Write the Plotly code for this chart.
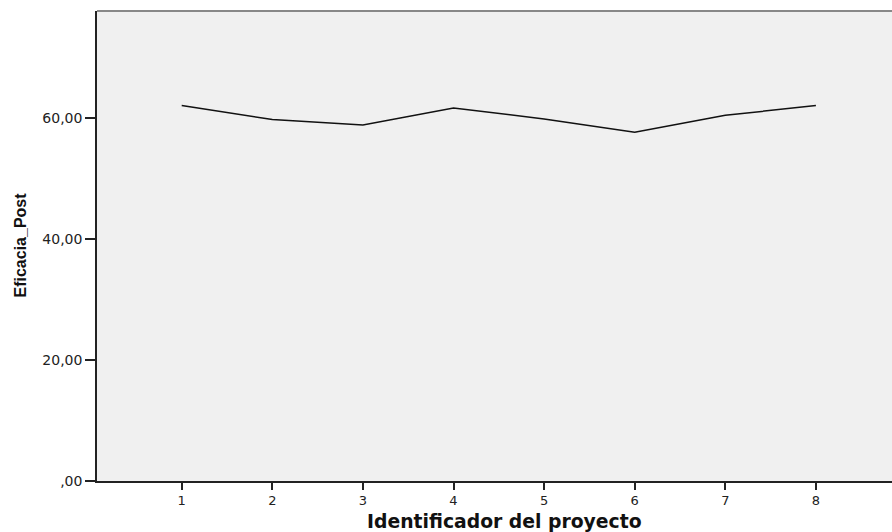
import plotly.graph_objects as go

proyecto = [1, 2, 3, 4, 5, 6, 7, 8]
eficacia_post = [62.1, 59.8, 58.9, 61.7, 59.9, 57.7, 60.5, 62.1]
y_tickvals = [0, 20, 40, 60]
y_ticktext = [",00", "20,00", "40,00", "60,00"]
x_ticktext = [str(v) for v in proyecto]

fig = go.Figure()
fig.add_trace(go.Scatter(x=proyecto, y=eficacia_post, mode="lines",
                         line=dict(color="#111111", width=1.5),
                         showlegend=False, hoverinfo="skip"))

fig.update_layout(
    width=892, height=532,
    margin=dict(l=97, r=0, t=11, b=51),
    paper_bgcolor="white",
    plot_bgcolor="#f0f0f0",
    font=dict(family="DejaVu Sans", color="#222222"),
    xaxis=dict(range=[0.065, 8.84], tickvals=proyecto, ticktext=x_ticktext,
               showgrid=False, zeroline=False, showline=True,
               linecolor="#222222", linewidth=1.5,
               ticks="outside", ticklen=7, tickwidth=1.5, tickcolor="#222222",
               tickfont=dict(family="DejaVu Sans", size=13, color="#222222")),
    yaxis=dict(range=[0, 77.75], tickvals=y_tickvals, ticktext=y_ticktext,
               showgrid=False, zeroline=False, showline=True,
               linecolor="#222222", linewidth=1.5,
               ticks="outside", ticklen=10, tickwidth=1.5, tickcolor="#222222",
               tickfont=dict(family="DejaVu Sans", size=14, color="#222222")),
    shapes=[dict(type="line", xref="paper", yref="paper", x0=0, x1=1, y0=1, y1=1,
                 line=dict(color="#888888", width=2))],
    annotations=[
        dict(text="<b>Identificador del proyecto</b>", xref="paper", yref="paper",
             x=(504 - 97) / 795, y=-(521 - 481) / 470, xanchor="center", yanchor="middle",
             showarrow=False, font=dict(family="DejaVu Sans", size=18.8, color="#111111")),
        dict(text="<b>Eficacia_Post</b>", xref="paper", yref="paper",
             x=(19.5 - 97) / 795, y=(481 - 245) / 470, xanchor="center", yanchor="middle",
             textangle=-90, showarrow=False,
             font=dict(family="Liberation Sans", size=16, color="#111111")),
    ],
)

fig.write_html("out.html", config={"displayModeBar": False},
               post_script="document.body.style.margin='0';document.body.style.overflow='hidden';")
